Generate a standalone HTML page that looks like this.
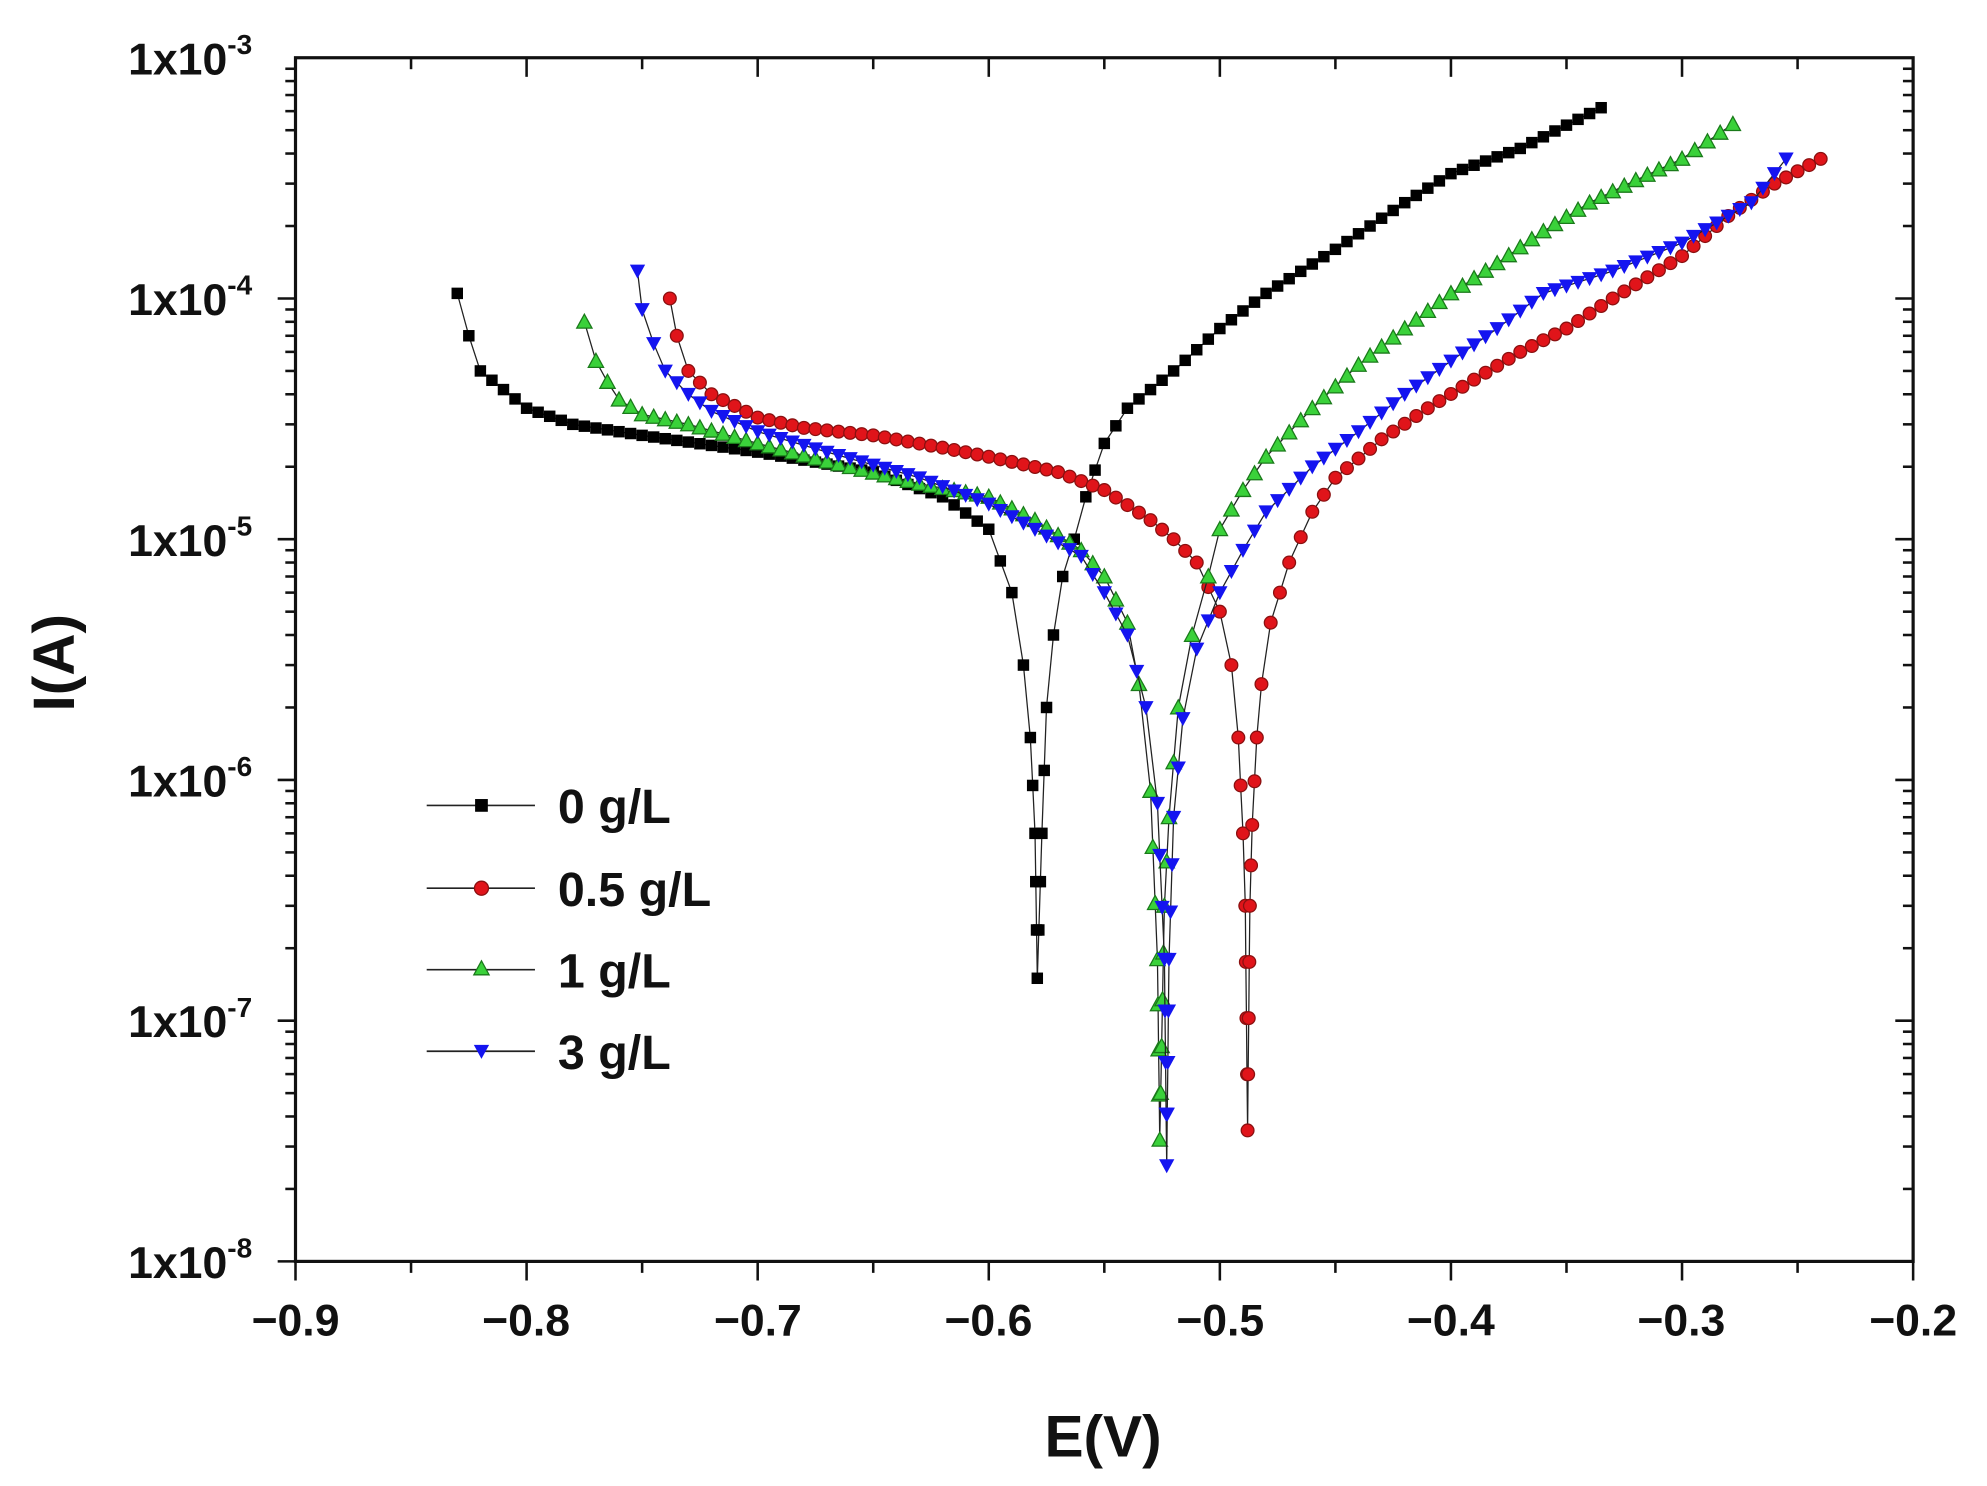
<!DOCTYPE html>
<html><head><meta charset="utf-8"><style>
html,body{margin:0;padding:0;background:#fff;}
svg{display:block;}
text{font-family:"Liberation Sans",Arial,sans-serif;font-weight:bold;fill:#111;}
</style></head><body>
<svg id="s" width="1987" height="1486" viewBox="0 0 1560 1166" xmlns="http://www.w3.org/2000/svg">
<rect x="0" y="0" width="1560" height="1166" fill="#fff"/>
<g id="axes" stroke="#111" stroke-width="2.5" fill="none">
<rect x="232" y="45" width="1270" height="945"/>
</g>
<g id="ticks" stroke="#111" stroke-width="2"></g>
<g id="labels">
<text x="232" y="1048" font-size="35" text-anchor="middle">−0.9</text>
<text x="413" y="1048" font-size="35" text-anchor="middle">−0.8</text>
<text x="595" y="1048" font-size="35" text-anchor="middle">−0.7</text>
<text x="776" y="1048" font-size="35" text-anchor="middle">−0.6</text>
<text x="958" y="1048" font-size="35" text-anchor="middle">−0.5</text>
<text x="1139" y="1048" font-size="35" text-anchor="middle">−0.4</text>
<text x="1320" y="1048" font-size="35" text-anchor="middle">−0.3</text>
<text x="1502" y="1048" font-size="35" text-anchor="middle">−0.2</text>
<text x="866" y="1143" font-size="46" text-anchor="middle">E(V)</text>
<text transform="translate(58,520) rotate(-90)" font-size="46" text-anchor="middle">I(A)</text>
</g>
<g id="series"></g>
<g id="legend">
<line x1="335" y1="632" x2="420" y2="632" stroke="#222" stroke-width="1.3"/>
<rect x="373" y="627" width="10" height="10" fill="#000"/>
<text x="438" y="646" font-size="38">0 g/L</text>
<line x1="335" y1="697" x2="420" y2="697" stroke="#222" stroke-width="1.3"/>
<circle cx="378" cy="697" r="5.5" fill="#e0141a" stroke="#8a1010" stroke-width="1"/>
<text x="438" y="711" font-size="38">0.5 g/L</text>
<line x1="335" y1="761" x2="420" y2="761" stroke="#222" stroke-width="1.3"/>
<polygon points="378,754 384,765 372,765" fill="#3ad13a" stroke="#1a7a1a" stroke-width="1"/>
<text x="438" y="775" font-size="38">1 g/L</text>
<line x1="335" y1="825" x2="420" y2="825" stroke="#222" stroke-width="1.3"/>
<polygon points="372,820 384,820 378,831" fill="#1414f0"/>
<text x="438" y="839" font-size="38">3 g/L</text>
</g>
</svg>
<script>
var NS="http://www.w3.org/2000/svg";
function X(e){return 232+(e+0.9)/0.7*1270;}
function Y(i){return 45+(-3-Math.log10(i))*189;}
function el(p,n,a){var e=document.createElementNS(NS,n);for(var k in a)e.setAttribute(k,a[k]);p.appendChild(e);return e;}
var T=document.getElementById('ticks'),L=document.getElementById('labels');
for(var k=0;k<=14;k++){var x=232+k*1270/14;var maj=k%2==0;
 el(T,'line',{x1:x,y1:990,x2:x,y2:990+(maj?15:9)});
 el(T,'line',{x1:x,y1:45,x2:x,y2:45+(maj?15:9)});}
for(var d=0;d<5;d++){for(var m=1;m<=9;m++){var y=45+(d+1-Math.log10(m))*189;var maj=(m==1);
 el(T,'line',{x1:232,y1:y,x2:232-(maj?14:8),y2:y});
 el(T,'line',{x1:1502,y1:y,x2:1502-(maj?14:8),y2:y});}}
for(var d=3;d<=8;d++){var y=45+(d-3)*189;
 var t=el(L,'text',{x:198,y:y+13,'font-size':35,'text-anchor':'end'});
 t.textContent='1x10';var s=el(t,'tspan',{dy:-16,'font-size':22});s.textContent='-'+d;}
var S=[
{c:'#000',st:'#000',m:'sq',d:[[-0.83,1.05e-4],[-0.825,7e-5],[-0.82,5e-5],[-0.80,3.5e-5],[-0.78,3e-5],[-0.75,2.7e-5],[-0.70,2.3e-5],[-0.65,1.9e-5],[-0.62,1.5e-5],[-0.60,1.1e-5],[-0.59,6e-6],[-0.585,3e-6],[-0.582,1.5e-6],[-0.580,6e-7],[-0.579,1.5e-7],[-0.577,6e-7],[-0.575,2e-6],[-0.572,4e-6],[-0.568,7e-6],[-0.563,1e-5],[-0.558,1.5e-5],[-0.55,2.5e-5],[-0.54,3.5e-5],[-0.52,5e-5],[-0.50,7.5e-5],[-0.48,1.05e-4],[-0.45,1.6e-4],[-0.42,2.5e-4],[-0.40,3.3e-4],[-0.37,4.2e-4],[-0.335,6.2e-4]]},
{c:'#e0141a',st:'#8a1010',m:'ci',d:[[-0.738,1e-4],[-0.735,7e-5],[-0.73,5e-5],[-0.72,4e-5],[-0.70,3.2e-5],[-0.68,2.9e-5],[-0.65,2.7e-5],[-0.62,2.4e-5],[-0.60,2.2e-5],[-0.57,1.9e-5],[-0.55,1.6e-5],[-0.53,1.2e-5],[-0.52,1e-5],[-0.51,8e-6],[-0.50,5e-6],[-0.495,3e-6],[-0.492,1.5e-6],[-0.490,6e-7],[-0.489,3e-7],[-0.488,3.5e-8],[-0.487,3e-7],[-0.486,6.5e-7],[-0.484,1.5e-6],[-0.482,2.5e-6],[-0.478,4.5e-6],[-0.47,8e-6],[-0.46,1.3e-5],[-0.45,1.8e-5],[-0.43,2.6e-5],[-0.41,3.5e-5],[-0.39,4.6e-5],[-0.37,6e-5],[-0.35,7.5e-5],[-0.33,1e-4],[-0.30,1.5e-4],[-0.28,2.2e-4],[-0.26,3e-4],[-0.24,3.8e-4]]},
{c:'#3ad13a',st:'#1a7a1a',m:'tu',d:[[-0.775,8e-5],[-0.77,5.5e-5],[-0.765,4.5e-5],[-0.76,3.8e-5],[-0.75,3.3e-5],[-0.73,3e-5],[-0.70,2.5e-5],[-0.67,2.1e-5],[-0.63,1.7e-5],[-0.60,1.5e-5],[-0.58,1.2e-5],[-0.56,9e-6],[-0.55,7e-6],[-0.54,4.5e-6],[-0.535,2.5e-6],[-0.530,9e-7],[-0.527,1.8e-7],[-0.526,3.2e-8],[-0.524,3e-7],[-0.522,7e-7],[-0.518,2e-6],[-0.512,4e-6],[-0.505,7e-6],[-0.50,1.1e-5],[-0.49,1.6e-5],[-0.48,2.2e-5],[-0.46,3.5e-5],[-0.44,5.3e-5],[-0.42,7.5e-5],[-0.40,1.05e-4],[-0.38,1.4e-4],[-0.36,1.9e-4],[-0.34,2.5e-4],[-0.32,3.1e-4],[-0.30,3.8e-4],[-0.278,5.3e-4]]},
{c:'#1414f0',st:'#1414f0',m:'td',d:[[-0.752,1.3e-4],[-0.75,9e-5],[-0.745,6.5e-5],[-0.74,5e-5],[-0.73,4e-5],[-0.72,3.4e-5],[-0.70,2.8e-5],[-0.67,2.3e-5],[-0.63,1.8e-5],[-0.60,1.4e-5],[-0.58,1.1e-5],[-0.56,8.5e-6],[-0.55,6e-6],[-0.54,4e-6],[-0.532,2e-6],[-0.527,8e-7],[-0.524,1.8e-7],[-0.523,2.5e-8],[-0.522,1.8e-7],[-0.520,7e-7],[-0.516,1.8e-6],[-0.51,3.5e-6],[-0.50,6e-6],[-0.49,9e-6],[-0.48,1.3e-5],[-0.46,2e-5],[-0.44,2.8e-5],[-0.42,4e-5],[-0.40,5.5e-5],[-0.38,7.5e-5],[-0.36,1.05e-4],[-0.33,1.3e-4],[-0.30,1.7e-4],[-0.27,2.5e-4],[-0.255,3.8e-4]]}
];
var G=document.getElementById('series');
S.forEach(function(s){
 var pts=s.d.map(function(p){return [X(p[0]),Y(p[1])];});
 var out=[pts[0]];
 for(var i=1;i<pts.length;i++){var a=pts[i-1],b=pts[i];var dx=b[0]-a[0],dy=b[1]-a[1];
  var n=Math.max(1,Math.round(Math.abs(dx)/9.5));
  if(Math.abs(dy)>30 && Math.abs(dx)<8) n=Math.max(1,Math.round(Math.abs(dy)/40));
  for(var j=1;j<=n;j++)out.push([a[0]+dx*j/n,a[1]+dy*j/n]);}
 el(G,'polyline',{points:out.map(function(p){return p[0].toFixed(1)+','+p[1].toFixed(1)}).join(' '),fill:'none',stroke:'#222','stroke-width':1});
 out.forEach(function(p){var x=p[0],y=p[1];
  if(s.m=='sq')el(G,'rect',{x:x-4.5,y:y-4.5,width:9,height:9,fill:'#000'});
  else if(s.m=='ci')el(G,'circle',{cx:x,cy:y,r:5,fill:s.c,stroke:s.st,'stroke-width':1});
  else if(s.m=='tu')el(G,'polygon',{points:(x)+','+(y-6)+' '+(x+6)+','+(y+5)+' '+(x-6)+','+(y+5),fill:s.c,stroke:s.st,'stroke-width':1});
  else el(G,'polygon',{points:(x-6)+','+(y-5)+' '+(x+6)+','+(y-5)+' '+x+','+(y+6),fill:s.c});
 });
});
</script>
</body></html>
